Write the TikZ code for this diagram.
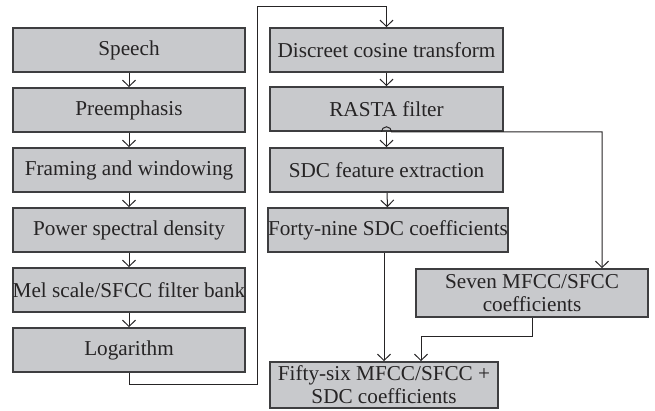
\documentclass[tikz,border=0pt]{standalone}
\usepackage{fontspec}
\setmainfont{Liberation Serif}
\usetikzlibrary{arrows.meta}

\definecolor{boxfill}{RGB}{200,201,204}
\definecolor{boxline}{RGB}{62,62,64}
\definecolor{inkgray}{RGB}{38,36,37}

\tikzset{
  stage/.style={draw=boxline, fill=boxfill, line width=0.8bp, inner sep=0pt,
    minimum width=116bp, minimum height=22bp, align=center, text=inkgray,
    font=\fontsize{10.6bp}{11.5bp}\selectfont},
  flow/.style={->, draw=inkgray, line width=0.5bp}
}

\begin{document}
\begin{tikzpicture}[x=0.5bp, y=0.5bp, >={Straight Barb[length=3.2bp,width=6.5bp]}]
    \useasboundingbox (0,0) rectangle (655,411);

    % 1. 左列：前端处理
    \node[stage] (speech) at (129,361) {Speech};
    \node[stage] (preemph) at (129,301) {Preemphasis};
    \node[stage] (frame) at (129,241) {Framing and windowing};
    \node[stage] (psd) at (129,181) {Power spectral density};
    \node[stage] (melbank) at (129,121) {Mel scale/SFCC filter bank};
    \node[stage] (logar) at (129,61) {Logarithm};

    % 2. 右列：倒谱与 SDC
    \node[stage, minimum width=116.5bp] (dct) at (386.5,361) {Discreet cosine transform};
    \node[stage, minimum width=116.5bp] (rasta) at (386.5,302) {RASTA filter};
    \node[stage, minimum width=116.5bp] (sdcext) at (386.5,241) {SDC feature extraction};
    \node[stage, minimum width=119bp] (sdc49) at (388,181) {Forty-nine SDC coefficients};
    \node[stage, minimum height=24bp] (mfcc7) at (532,118) {Seven MFCC/SFCC\\coefficients};
    \node[stage, minimum width=114bp, minimum height=23bp] (feat56) at (384,26) {Fifty-six MFCC/SFCC +\\SDC coefficients};

    % 3. 左列箭头
    \draw[flow] (speech) -- (preemph);
    \draw[flow] (preemph) -- (frame);
    \draw[flow] (frame) -- (psd);
    \draw[flow] (psd) -- (melbank);
    \draw[flow] (melbank) -- (logar);

    % 4. 左列转到右列
    \draw[flow] (logar.south) -- ++(0,-12) -| (257,404) -| (dct.north);

    % 5. 右列箭头
    \draw[flow] (dct) -- (rasta);
    \draw[flow] (rasta) -- (sdcext);
    \draw[flow] (sdcext) -- (sdc49);
    \draw[flow] ([xshift=-2bp]sdc49.south) -- ([xshift=-2bp]sdc49.south |- feat56.north);

    % 6. 分支：RASTA 输出跨过箭头到七个系数
    \draw[flow] ([xshift=-2.5bp]rasta.south) arc[start angle=180, end angle=0, radius=2.5bp]
        -| ([xshift=35bp]mfcc7.north);
    \draw[flow] (mfcc7.south) -- ++(0,-19) -| ([xshift=18.5bp]feat56.north);
\end{tikzpicture}
\end{document}
